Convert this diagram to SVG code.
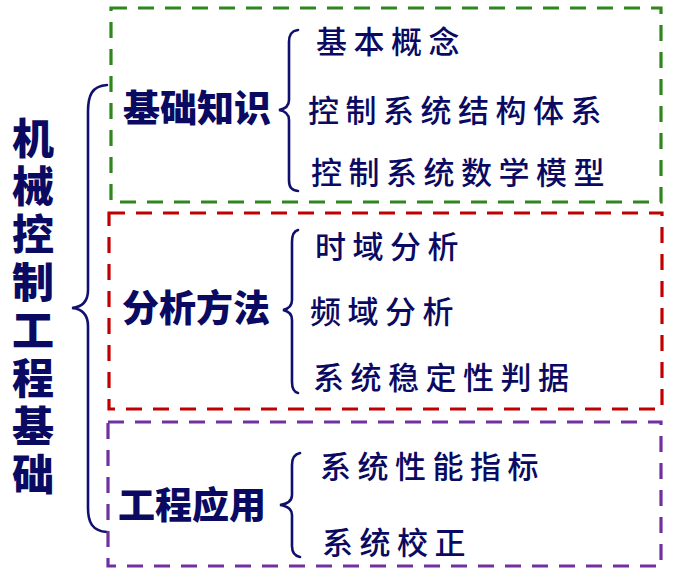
<svg xmlns="http://www.w3.org/2000/svg" width="677" height="577" viewBox="0 0 677 577">
<style>
.box{fill:none;stroke-width:3.2;stroke-dasharray:16 11}
.brace{fill:none;stroke:#10106e;stroke-width:2.6;stroke-linecap:round}
.title{font-family:"Noto Sans CJK SC","Noto Sans",sans-serif;font-weight:900;fill:#0a0a62;font-size:42px;writing-mode:vertical-rl;letter-spacing:6px}
.cat{font-family:"Noto Sans CJK SC","Noto Sans",sans-serif;font-weight:900;fill:#0a0a62;font-size:37px}
.item{font-family:"Noto Sans CJK SC","Noto Sans",sans-serif;font-weight:500;fill:#0a0a62;font-size:31px;letter-spacing:6.5px}
</style>
<rect width="677" height="577" fill="#ffffff"/>
<g id="title">
<text class="title" x="33" y="117">机械控制工程基础</text>
</g>
<g id="connectors">
<path class="brace" d="M107,85 C92,86 88,95 88,112 L88,290 C88,302 82,307 72,308 C82,309 88,314 88,326 L88,508 C88,522 92,531 107,532"/>
<path class="brace" d="M298,30 C291,31 289,35 289,42 L289,100 C289,106 285,109 279,110 C285,111 289,114 289,120 L289,180 C289,187 291,190 298,191"/>
<path class="brace" d="M298,230 C294,231 292,235 292,242 L292,300 C292,306 288,309 283,310 C288,311 292,314 292,320 L292,382 C292,389 294,392 298,393"/>
<path class="brace" d="M300,453 C295,454 292,458 292,465 L292,495 C292,501 287,504 280,505 C287,506 292,509 292,515 L292,546 C292,553 295,556 300,557"/>
</g>
<g id="basics">
<rect class="box" x="111" y="8" width="550" height="194" stroke="#2e861c"/>
<text class="cat" x="123" y="122">基础知识</text>
<text class="item" x="316" y="53">基本概念</text>
<text class="item" x="308" y="122">控制系统结构体系</text>
<text class="item" x="311" y="184">控制系统数学模型</text>
</g>
<g id="methods">
<rect class="box" x="109" y="213" width="553" height="196" stroke="#c00000"/>
<text class="cat" x="122" y="322">分析方法</text>
<text class="item" x="315" y="258">时域分析</text>
<text class="item" x="310" y="323">频域分析</text>
<text class="item" x="313" y="389">系统稳定性判据</text>
</g>
<g id="applications">
<rect class="box" x="108" y="422" width="553" height="144" stroke="#7030a0"/>
<text class="cat" x="118" y="519">工程应用</text>
<text class="item" x="320" y="478">系统性能指标</text>
<text class="item" x="322" y="554">系统校正</text>
</g>
</svg>
